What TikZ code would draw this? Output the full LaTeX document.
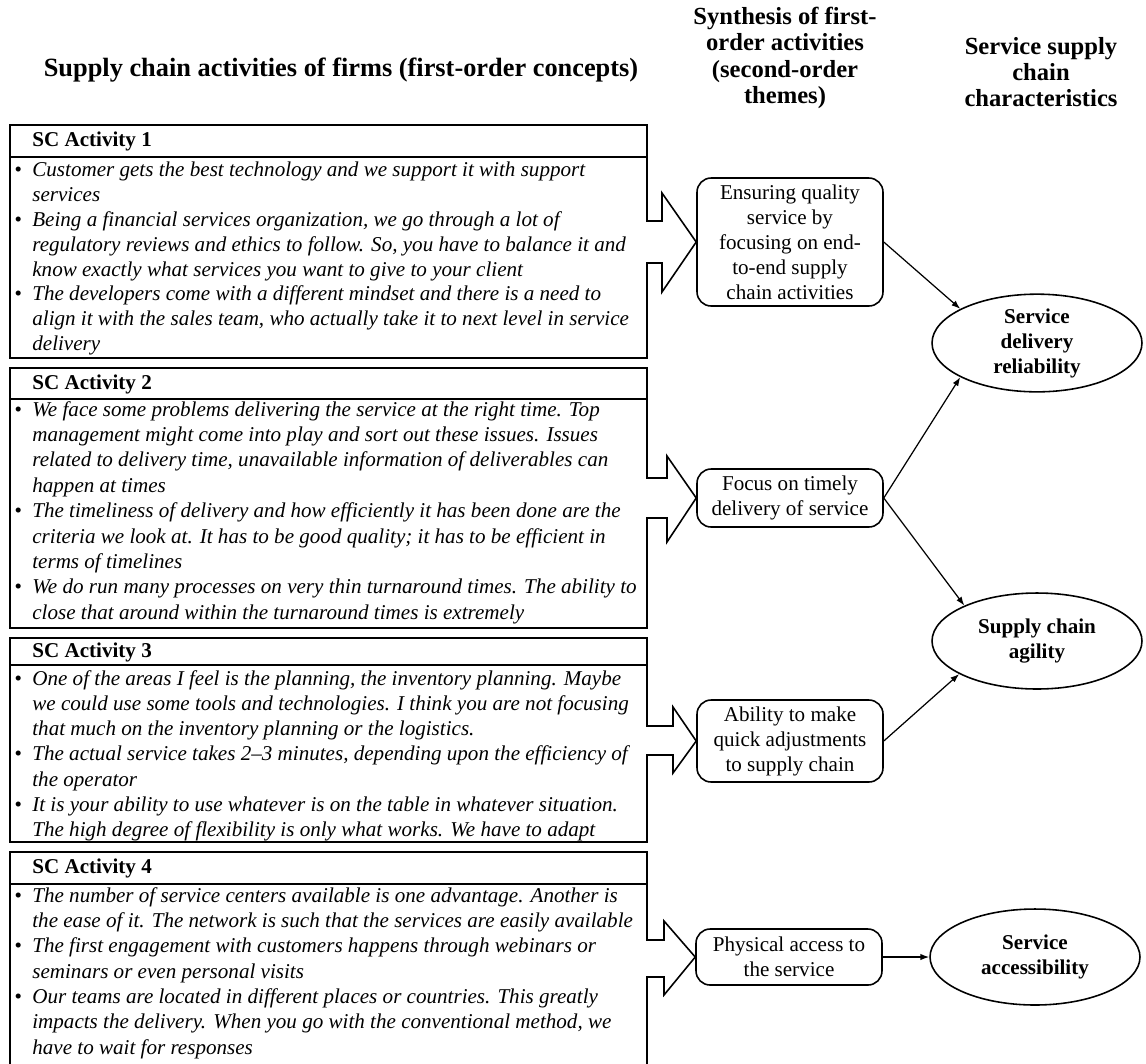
\documentclass[tikz,border=0pt]{standalone}
\usepackage{fontspec}
\setmainfont{Liberation Serif}
\usetikzlibrary{arrows.meta,positioning,shapes.geometric}

\newcommand{\itembul}{\makebox[0.46cm][l]{\hspace{3pt}\upshape\textbullet}}
\newcommand{\itemcont}{\hspace*{0.46cm}}

\begin{document}
\begin{tikzpicture}[
  x=0.02cm, y=-0.02cm, >={Latex[length=5pt,width=3.6pt]},
  every node/.style={font=\fontsize{12}{14.2}\selectfont},
  head/.style={align=center, font=\fontsize{14}{15}\selectfont\bfseries},
  tag/.style={anchor=west, inner sep=0pt, font=\fontsize{12}{14}\selectfont\bfseries},
  quote/.style={anchor=north west, inner sep=0pt, align=left,
                font=\fontsize{12}{#1}\selectfont\itshape},
  theme/.style={draw, line width=0.9pt, rounded corners=8pt, align=center,
                minimum width=3.72cm, inner sep=0pt},
  trait/.style={draw, ellipse, line width=0.9pt, align=center, inner sep=0pt,
                minimum width=4.2cm, font=\fontsize{12}{14.2}\selectfont\bfseries},
  frame/.style={line width=0.9pt},
  link/.style={->, line width=0.7pt},
]
\clip (0,0) rectangle (1146,1063);

% column titles
\node[head, font=\fontsize{15}{15}\selectfont\bfseries] (c1) at (341,70)
  {Supply chain activities of firms (first-order concepts)};
\node[head] (c2) at (785,58) {Synthesis of first-\\order activities\\(second-order\\themes)};
\node[head] (c3) at (1041,72) {Service supply\\chain\\characteristics};

% second-order themes
\node[theme, minimum height=2.56cm] (t1) at (790,242)
  {Ensuring quality\\service by\\focusing on end-\\to-end supply\\chain activities};
\node[theme, minimum height=1.16cm] (t2) at (790,498) {Focus on timely\\delivery of service};
\node[theme, minimum height=1.64cm] (t3) at (790,741)
  {Ability to make\\quick adjustments\\to supply chain};
\node[theme, minimum height=1.12cm] (t4) at (789,957) {Physical access to\\the service};

% characteristics
\node[trait, minimum height=1.84cm] (e1) at (1037,343) {Service\\delivery\\reliability};
\node[trait, minimum height=1.92cm] (e2) at (1037,641) {Supply chain\\agility};
\node[trait, minimum height=1.92cm] (e3) at (1035,957) {Service\\accessibility};

% activity boxes with block arrows
\draw[frame] (10,125) -- (647,125) -- (647,221) -- (662,221) -- (662,193) -- (t1.west)
  -- (662,292) -- (662,263) -- (647,263) -- (647,358) -- (10,358) -- cycle;
\draw[frame] (10,157) -- (647,157);
\draw[frame] (10,368) -- (647,368) -- (647,478) -- (667,478) -- (667,456) -- (t2.west)
  -- (667,542) -- (667,518) -- (647,518) -- (647,628) -- (10,628) -- cycle;
\draw[frame] (10,399) -- (647,399);
\draw[frame] (10,638) -- (647,638) -- (647,726) -- (673,726) -- (673,707) -- (t3.west)
  -- (673,773) -- (673,755) -- (647,755) -- (647,842) -- (10,842) -- cycle;
\draw[frame] (10,665) -- (647,665);
\draw[frame] (10,1070) -- (10,852) -- (647,852) -- (647,940) -- (664,940) -- (664,921)
  -- (t4.west) -- (664,995) -- (664,977) -- (647,977) -- (647,1070);
\draw[frame] (10,884) -- (647,884);

\node[tag] (h1) at (32,141) {SC Activity 1};
\node[tag] (h2) at (32,384) {SC Activity 2};
\node[tag] (h3) at (32,652) {SC Activity 3};
\node[tag] (h4) at (32,868) {SC Activity 4};

\node[quote=14.1pt] (q1) at (9,162) {%
\itembul Customer gets the best technology and we support it with support\\
\itemcont services\\
\itembul Being a financial services organization, we go through a lot of\\
\itemcont regulatory reviews and ethics to follow. So, you have to balance it and\\
\itemcont know exactly what services you want to give to your client\\
\itembul The developers come with a different mindset and there is a need to\\
\itemcont align it with the sales team, who actually take it to next level in service\\
\itemcont delivery};
\node[quote=14.45pt] (q2) at (9,401) {%
\itembul We face some problems delivering the service at the right time. Top\\
\itemcont management might come into play and sort out these issues. Issues\\
\itemcont related to delivery time, unavailable information of deliverables can\\
\itemcont happen at times\\
\itembul The timeliness of delivery and how efficiently it has been done are the\\
\itemcont criteria we look at. It has to be good quality; it has to be efficient in\\
\itemcont terms of timelines\\
\itembul We do run many processes on very thin turnaround times. The ability to\\
\itemcont close that around within the turnaround times is extremely};
\node[quote=14.35pt] (q3) at (9,670) {%
\itembul One of the areas I feel is the planning, the inventory planning. Maybe\\
\itemcont we could use some tools and technologies. I think you are not focusing\\
\itemcont that much on the inventory planning or the logistics.\\
\itembul The actual service takes 2–3 minutes, depending upon the efficiency of\\
\itemcont the operator\\
\itembul It is your ability to use whatever is on the table in whatever situation.\\
\itemcont The high degree of flexibility is only what works. We have to adapt};
\node[quote=14.4pt] (q4) at (9,887) {%
\itembul The number of service centers available is one advantage. Another is\\
\itemcont the ease of it. The network is such that the services are easily available\\
\itembul The first engagement with customers happens through webinars or\\
\itemcont seminars or even personal visits\\
\itembul Our teams are located in different places or countries. This greatly\\
\itemcont impacts the delivery. When you go with the conventional method, we\\
\itemcont have to wait for responses};

% links to characteristics
\draw[link] (t1.east) -- (e1.156);
\draw[link] (t2.east) -- (e1.204);
\draw[link] (t2.east) -- (e2.154);
\draw[link] (t3.east) -- (e2.203);
\draw[link] (t4.east) -- (e3.west);
\end{tikzpicture}
\end{document}
